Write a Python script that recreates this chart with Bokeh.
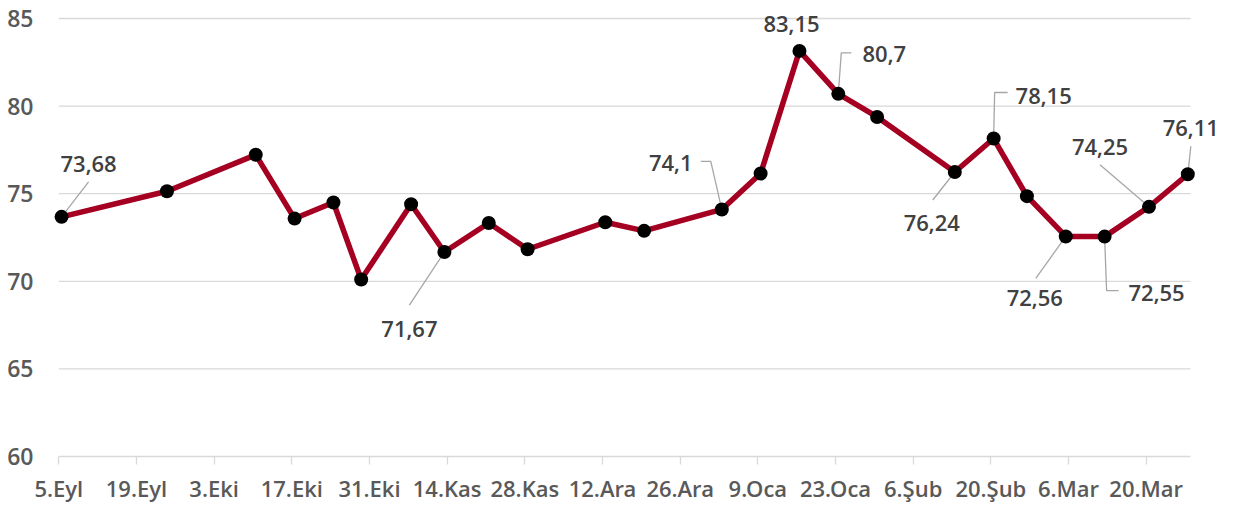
from datetime import date
from bokeh.plotting import figure
from bokeh.models import ColumnDataSource, LabelSet, FixedTicker, Range1d
from bokeh.core.properties import value
from bokeh.embed import file_html
from bokeh.resources import INLINE

# ---------------- data ----------------
dates = ["2022-09-05", "2022-09-24", "2022-10-10", "2022-10-17", "2022-10-24",
         "2022-10-29", "2022-11-07", "2022-11-13", "2022-11-21", "2022-11-28",
         "2022-12-12", "2022-12-19", "2023-01-02", "2023-01-09", "2023-01-16",
         "2023-01-23", "2023-01-30", "2023-02-13", "2023-02-20", "2023-02-26",
         "2023-03-05", "2023-03-12", "2023-03-20", "2023-03-27"]
values = [73.68, 75.14, 77.22, 73.58, 74.50, 70.10, 74.40, 71.67, 73.33, 71.83,
          73.37, 72.88, 74.10, 76.15, 83.15, 80.70, 79.38, 76.24, 78.15, 74.86,
          72.56, 72.55, 74.25, 76.11]
tick_dates = ["2022-09-05", "2022-09-19", "2022-10-03", "2022-10-17", "2022-10-31",
              "2022-11-14", "2022-11-28", "2022-12-12", "2022-12-26", "2023-01-09",
              "2023-01-23", "2023-02-06", "2023-02-20", "2023-03-06", "2023-03-20"]
tick_labels = ["5.Eyl", "19.Eyl", "3.Eki", "17.Eki", "31.Eki", "14.Kas", "28.Kas",
               "12.Ara", "26.Ara", "9.Oca", "23.Oca", "6.Şub", "20.Şub", "6.Mar", "20.Mar"]
y_ticks = [60, 65, 70, 75, 80, 85]
labeled_points = [0, 7, 12, 14, 15, 17, 18, 20, 21, 22, 23]

# ---------------- layout / style ----------------
PX_DAY, PX_UNIT = 5.548, 17.52          # target scale (px per day, px per unit)
LEFT, TOP = 52, 12                      # frame origin inside the canvas
FRAME_W, FRAME_H = 1165, 444
AXIS_START_PX = 6.3                     # first tick's distance from frame left
# label placement: (dx, dy) of text centre in screen px (y down), leader polyline in px
label_layout = {
    0:  ((27, -53),  [(27, -35), (0, 0)]),
    7:  ((-35, 77),  [(-35, 53), (0, 0)]),
    12: ((-51, -46), [(-21, -48), (-11, -48), (0, 0)]),
    14: ((-8, -27),  None),
    15: ((46, -40),  [(13, -41), (3, -41), (0, 0)]),
    17: ((-23, 51),  [(-22, 28), (0, 0)]),
    18: ((50, -43),  [(14, -46), (1, -46), (0, 0)]),
    20: ((-31, 62),  [(-30, 42), (0, 0)]),
    21: ((52, 56),   [(14, 54), (2, 54), (0, 0)]),
    22: ((-49, -60), [(-49, -42), (0, 0)]),
    23: ((3, -46),   [(3, -28), (0, 0)]),
}
LINE_COLOR = "#A50021"
GRID_COLOR = "#D9D9D9"
LEADER_COLOR = "#A6A6A6"
TICK_TEXT = "#595959"
LABEL_TEXT = "#404040"
FONT_SEMI = "'Open Sans SemiBold', 'Open Sans'"

start = date.fromisoformat(dates[0])


def day(s):
    return (date.fromisoformat(s) - start).days


x = [day(d) + 0.5 for d in dates]
x_end_axis = day(dates[-1]) + 1
x_start = -AXIS_START_PX / PX_DAY
x_range = Range1d(x_start, x_start + FRAME_W / PX_DAY)
y_range = Range1d(y_ticks[0], y_ticks[0] + FRAME_H / PX_UNIT)

p = figure(frame_width=FRAME_W, frame_height=FRAME_H, x_range=x_range,
           y_range=y_range, output_backend="svg",
           toolbar_location=None, min_border_left=LEFT, min_border_right=4,
           min_border_top=TOP, min_border_bottom=10)
p.outline_line_color = None
p.grid.visible = False
p.background_fill_color = "white"

# horizontal grid lines over the date span
gy = [t for t in y_ticks if t > y_ticks[0]]
p.segment(x0=[0] * len(gy), x1=[x_end_axis] * len(gy), y0=gy, y1=gy,
          line_color=GRID_COLOR, line_width=1.3)

# axes
xt = [day(t) for t in tick_dates]
p.xaxis.ticker = FixedTicker(ticks=xt)
p.xaxis.major_label_overrides = {t: l for t, l in zip(xt, tick_labels)}
p.xaxis.bounds = (0, x_end_axis)
p.xaxis.axis_line_color = GRID_COLOR
p.xaxis.axis_line_width = 1.3
p.xaxis.major_tick_line_color = GRID_COLOR
p.xaxis.major_tick_line_width = 1.3
p.xaxis.major_tick_out = 8
p.xaxis.major_tick_in = 0
p.xaxis.minor_tick_line_color = None
p.xaxis.major_label_standoff = 8
p.xaxis.major_label_text_font = FONT_SEMI
p.xaxis.major_label_text_font_size = "22px"
p.xaxis.major_label_text_color = TICK_TEXT

p.yaxis.ticker = FixedTicker(ticks=y_ticks)
p.yaxis.axis_line_color = None
p.yaxis.major_tick_line_color = None
p.yaxis.minor_tick_line_color = None
p.yaxis.major_tick_out = 0
p.yaxis.major_tick_in = 0
p.yaxis.major_label_standoff = 19
p.yaxis.major_label_text_font = FONT_SEMI
p.yaxis.major_label_text_font_size = "23px"
p.yaxis.major_label_text_color = TICK_TEXT

# leader lines
lx, ly = [], []
for i in labeled_points:
    (_, leader) = label_layout[i]
    if leader:
        lx.append([x[i] + dx / PX_DAY for dx, dy in leader])
        ly.append([values[i] - dy / PX_UNIT for dx, dy in leader])
p.multi_line(xs=lx, ys=ly, line_color=LEADER_COLOR, line_width=1.3)

# series
p.line(x, values, line_color=LINE_COLOR, line_width=5.5, line_join="round")
p.scatter(x, values, size=14, fill_color="black", line_color=None)

# data labels
src = ColumnDataSource(dict(
    x=[x[i] for i in labeled_points],
    y=[values[i] for i in labeled_points],
    text=[f"{values[i]:g}".replace(".", ",") for i in labeled_points],
    dx=[label_layout[i][0][0] for i in labeled_points],
    dy=[-label_layout[i][0][1] for i in labeled_points],
))
p.add_layout(LabelSet(x="x", y="y", text="text", x_offset="dx", y_offset="dy",
                      source=src, text_align="center", text_baseline="middle",
                      text_font=value(FONT_SEMI), text_font_size="22px",
                      text_color=LABEL_TEXT))

open("out.html", "w").write(file_html(p, INLINE))
